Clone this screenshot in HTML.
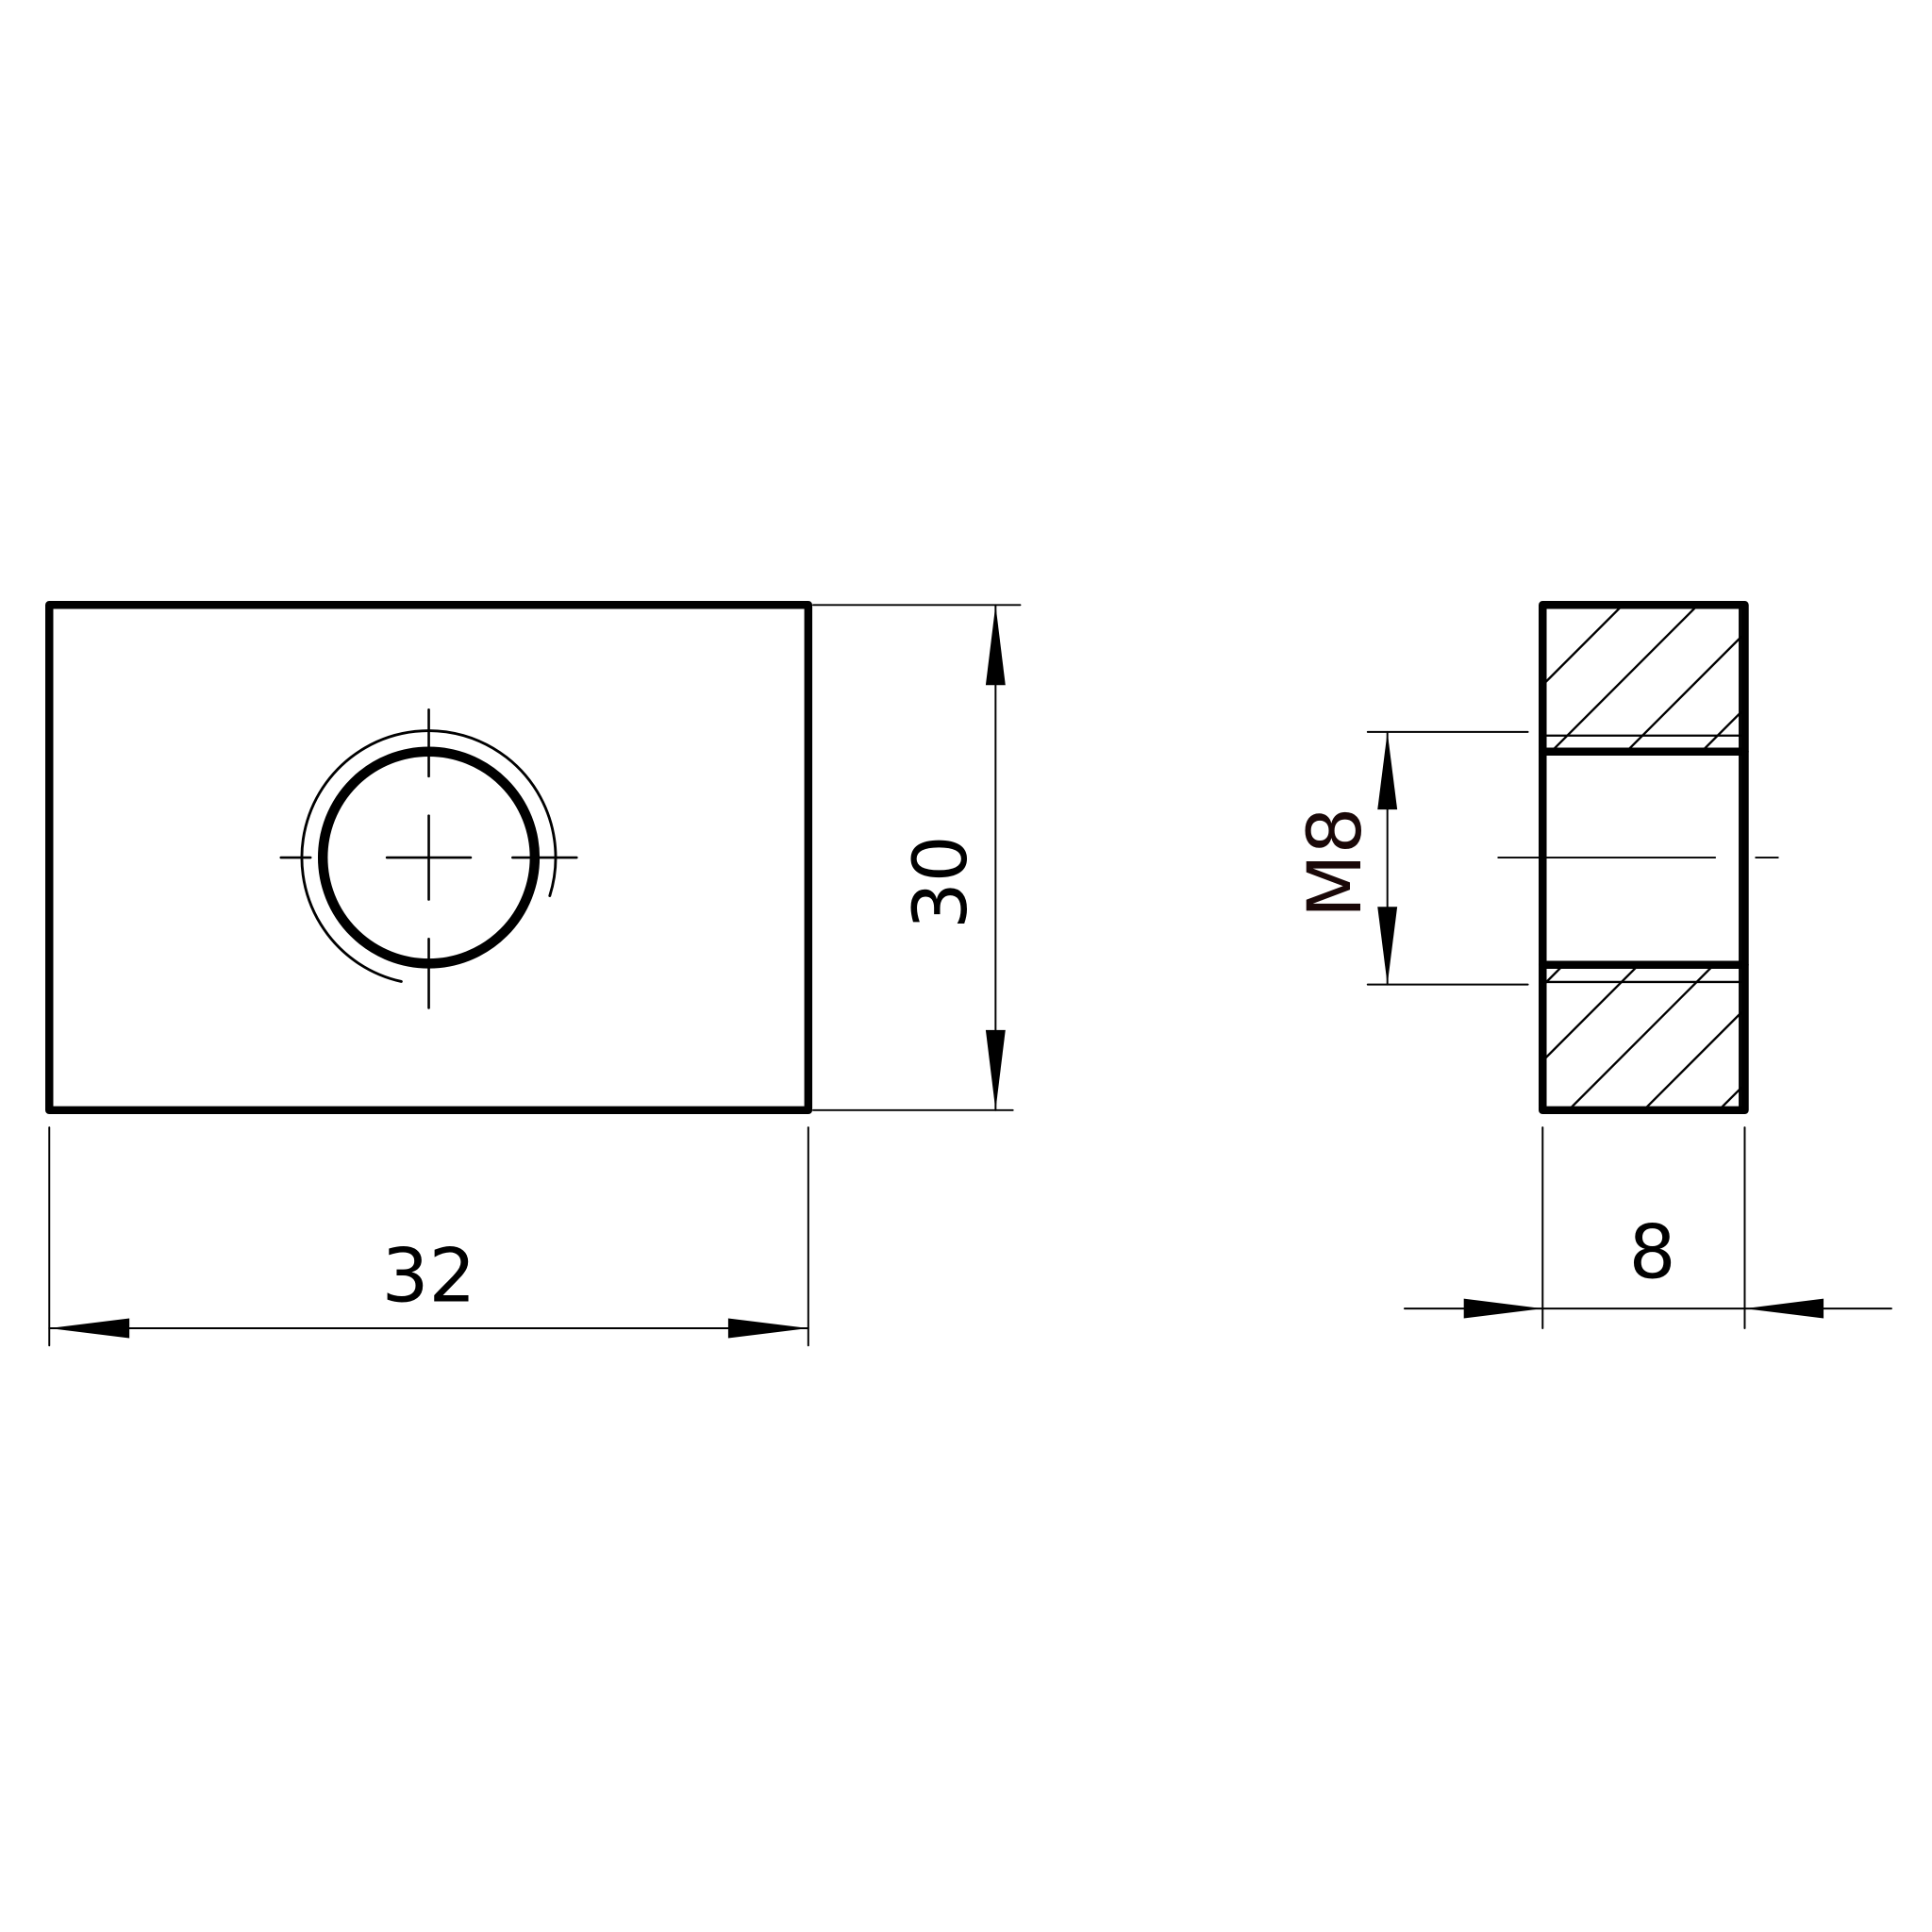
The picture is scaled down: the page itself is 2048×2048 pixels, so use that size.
<!DOCTYPE html>
<html><head><meta charset="utf-8"><style>html,body{margin:0;padding:0;background:#fff}svg{display:block}</style></head>
<body>
<svg width="2048" height="2048" viewBox="0 0 1568 1568" xmlns="http://www.w3.org/2000/svg">
<defs>
<clipPath id="ct"><rect x="1255" y="494" width="158" height="114"/></clipPath>
<clipPath id="cb"><rect x="1255" y="786" width="158" height="112"/></clipPath>
</defs>
<g stroke="#000" fill="none" stroke-linecap="round">
<rect x="40" y="491" width="616" height="410" stroke-width="6.5" stroke-linejoin="round"/>
<circle cx="348" cy="696" r="86" stroke-width="8"/>
<path d="M446.2 727 A103 103 0 1 0 325.7 796.6" stroke-width="2.2"/>
<g stroke-width="2">
<line x1="228" y1="696" x2="252" y2="696"/><line x1="314" y1="696" x2="382" y2="696"/><line x1="416" y1="696" x2="468" y2="696"/>
<line x1="348" y1="576" x2="348" y2="630"/><line x1="348" y1="662" x2="348" y2="730"/><line x1="348" y1="762" x2="348" y2="818"/>
</g>
<g stroke-width="1.5">
<line x1="660" y1="491" x2="828" y2="491"/><line x1="660" y1="901" x2="822" y2="901"/>
<line x1="808" y1="491" x2="808" y2="901"/>
<line x1="40" y1="915" x2="40" y2="1092"/><line x1="656" y1="915" x2="656" y2="1092"/>
<line x1="40" y1="1078" x2="656" y2="1078"/>
</g>
<rect x="1252" y="491" width="164" height="410" stroke-width="6.5" stroke-linejoin="round"/>
<line x1="1252" y1="610" x2="1416" y2="610" stroke-width="6.5"/>
<line x1="1252" y1="783" x2="1416" y2="783" stroke-width="6.5"/>
<g stroke-width="1.8">
<line x1="1255" y1="597" x2="1413" y2="597"/>
<line x1="1255" y1="797" x2="1413" y2="797"/>
<line x1="1412" y1="494" x2="1412" y2="898"/>
</g>
<g stroke-width="1.8" clip-path="url(#ct)">
<line x1="1100" y1="647" x2="1500" y2="247"/><line x1="1100" y1="708" x2="1500" y2="308"/><line x1="1100" y1="769" x2="1500" y2="369"/><line x1="1100" y1="830" x2="1500" y2="430"/><line x1="1100" y1="891" x2="1500" y2="491"/><line x1="1100" y1="952" x2="1500" y2="552"/>
</g>
<g stroke-width="1.8" clip-path="url(#cb)">
<line x1="1100" y1="952" x2="1500" y2="552"/><line x1="1100" y1="1013" x2="1500" y2="613"/><line x1="1100" y1="1074" x2="1500" y2="674"/><line x1="1100" y1="1135" x2="1500" y2="735"/><line x1="1100" y1="1196" x2="1500" y2="796"/><line x1="1100" y1="1257" x2="1500" y2="857"/>
</g>
<g stroke-width="1.5">
<line x1="1216" y1="696" x2="1392" y2="696"/><line x1="1425" y1="696" x2="1443" y2="696"/>
<line x1="1110" y1="594" x2="1240" y2="594"/><line x1="1110" y1="799" x2="1240" y2="799"/>
<line x1="1126" y1="594" x2="1126" y2="799"/>
<line x1="1252" y1="915" x2="1252" y2="1078"/><line x1="1416" y1="915" x2="1416" y2="1078"/>
<line x1="1140" y1="1062" x2="1535" y2="1062"/>
</g>
</g>
<g fill="#000">
<polygon points="808,491 800,556 816,556"/><polygon points="808,901 800,836 816,836"/>
<polygon points="40,1078 105,1070 105,1086"/><polygon points="656,1078 591,1070 591,1086"/>
<polygon points="1126,594 1118,657 1134,657"/><polygon points="1126,799 1118,736 1134,736"/>
<polygon points="1252,1062 1188,1054 1188,1070"/><polygon points="1416,1062 1480,1054 1480,1070"/>
</g>
<g font-family="'DejaVu Sans','Liberation Sans',sans-serif" font-size="60" text-anchor="middle" fill="#000">
<text x="348" y="1056">32</text>
<text x="1341" y="1037">8</text>
<text transform="translate(784,716) rotate(-90)">30</text>
<text transform="translate(1104,700) rotate(-90)" fill="#1a0808">M8</text>
</g>
</svg>
</body></html>
